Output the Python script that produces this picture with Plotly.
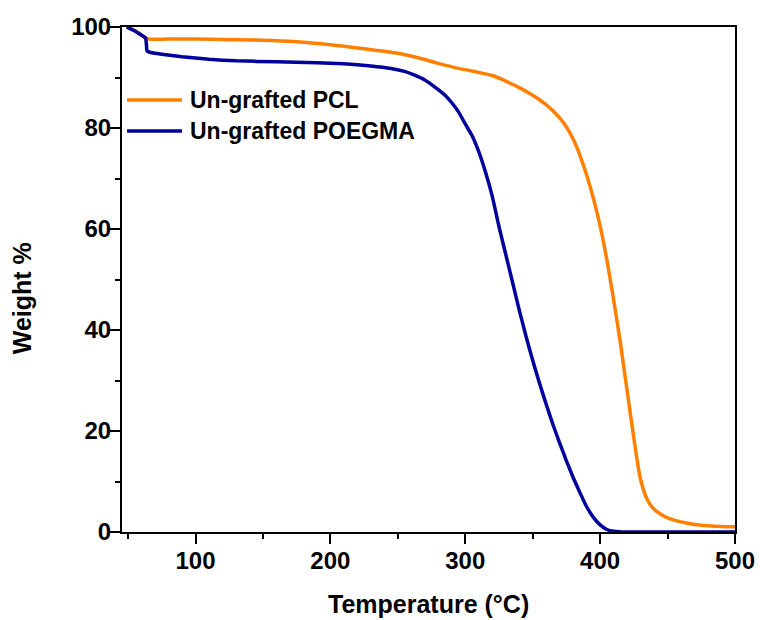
import plotly.graph_objects as go

# ---- data ----
pcl_temp = [49, 52, 55, 58, 61, 63, 66, 80, 100, 125, 150, 175, 200, 225, 250, 265, 280, 295, 310, 320,
            330, 340, 350, 355, 360, 365, 370, 375, 380, 385, 390, 395, 400, 405, 410, 415, 420, 425, 430,
            435, 440, 445, 450, 460, 470, 480, 490, 500]
pcl_weight = [100, 99.7, 99.3, 98.8, 98.2, 97.8, 97.6, 97.6, 97.6, 97.5, 97.4, 97.1, 96.5, 95.7, 94.8, 93.9,
              92.8, 91.8, 91.0, 90.4, 89.3, 88.0, 86.5, 85.6, 84.6, 83.4, 82.0, 80.2, 77.8, 74.6, 70.7,
              66.1, 60.6, 53.9, 46.0, 37.5, 28.0, 18.6, 10.4, 6.4, 4.5, 3.5, 2.8, 2.0, 1.5, 1.25, 1.1, 1.05]

poegma_temp = [49, 52, 55, 58, 61, 63, 63.6, 64, 66, 75, 90, 110, 130, 160, 190, 210, 230, 245, 255, 262,
               270, 278, 285, 290, 295, 300, 305, 310, 315, 320, 325, 330, 335, 340, 345, 350, 355, 360,
               365, 370, 375, 380, 385, 390, 395, 400, 405, 410, 415, 425, 450, 500]
poegma_weight = [100, 99.6, 99.2, 98.7, 98.2, 97.8, 96.5, 95.3, 95.0, 94.6, 94.1, 93.6, 93.3, 93.1, 92.9,
                 92.7, 92.3, 91.8, 91.2, 90.5, 89.5, 88.0, 86.5, 85.0, 83.2, 80.8, 78.5, 75.3, 71.3, 66.5,
                 60.5, 55.0, 49.5, 44.0, 38.8, 34.0, 29.5, 25.3, 21.3, 17.6, 14.1, 10.8, 7.8, 5.0, 2.9,
                 1.4, 0.5, 0.15, 0.05, 0.0, 0.0, 0.0]

series_names = ["Un-grafted PCL", "Un-grafted POEGMA"]
x_ticks = [100, 200, 300, 400, 500]
y_ticks = [0, 20, 40, 60, 80, 100]
x_label = "Temperature (°C)"
y_label = "Weight %"

FONT = "Liberation Sans, Arial, sans-serif"
ORANGE = "#FF8000"
BLUE = "#00009C"
COLORS = [ORANGE, BLUE]

fig = go.Figure()
fig.add_trace(go.Scatter(x=pcl_temp, y=pcl_weight, mode="lines", name=series_names[0], showlegend=False,
                         line=dict(color=ORANGE, width=3.5, shape="spline", smoothing=0.8)))
fig.add_trace(go.Scatter(x=poegma_temp, y=poegma_weight, mode="lines", name=series_names[1], showlegend=False,
                         line=dict(color=BLUE, width=3.5, shape="spline", smoothing=0.4)))

XR = [45.5, 500]
YR = [0, 100]

# legend drawn as paper-positioned line samples + labels
legend_rows_y = [0.8554, 0.7941]
shapes = []
annotations = []
for name, col, ly in zip(series_names, COLORS, legend_rows_y):
    shapes.append(dict(type="line", xref="paper", yref="paper", x0=0.0082, x1=0.0979, y0=ly, y1=ly,
                       line=dict(color=col, width=3.5)))
    annotations.append(dict(text=name, xref="paper", yref="paper", x=0.1077, y=ly,
                            xanchor="left", yanchor="middle", showarrow=False,
                            font=dict(family=FONT, size=23, color="black", weight="bold")))

annotations += [
    dict(text=x_label, xref="paper", yref="paper", x=0.5, y=-0.1426,
         xanchor="center", yanchor="middle", showarrow=False,
         font=dict(family=FONT, size=25, color="black", weight="bold")),
    dict(text=y_label, xref="paper", yref="paper", x=-0.163, y=0.463,
         xanchor="center", yanchor="middle", showarrow=False, textangle=-90,
         font=dict(family=FONT, size=25, color="black", weight="bold")),
]

fig.update_layout(
    width=760, height=620,
    margin=dict(l=122, r=25, t=27, b=88),
    plot_bgcolor="white", paper_bgcolor="white",
    font=dict(family=FONT, size=22, color="black"),
    showlegend=False,
    xaxis=dict(range=XR, tickvals=x_ticks, ticks="outside", ticklen=10, tickwidth=1.5,
               tickcolor="black", showline=True, linecolor="black", linewidth=2,
               showgrid=False, zeroline=False, mirror=True, automargin=False,
               ticklabelstandoff=-4,
               tickfont=dict(family=FONT, size=24, color="black", weight="bold"),
               minor=dict(tickvals=[50, 150, 250, 350, 450], ticks="outside", ticklen=5,
                          tickwidth=1.5, tickcolor="black", showgrid=False)),
    yaxis=dict(range=YR, tickvals=y_ticks, ticks="outside", ticklen=10, tickwidth=1.5,
               tickcolor="black", showline=True, linecolor="black", linewidth=2,
               showgrid=False, zeroline=False, mirror=True, automargin=False,
               ticklabelstandoff=-6,
               tickfont=dict(family=FONT, size=24, color="black", weight="bold"),
               minor=dict(tickvals=[10, 30, 50, 70, 90], ticks="outside", ticklen=5,
                          tickwidth=1.5, tickcolor="black", showgrid=False)),
    xaxis2=dict(range=XR, overlaying="x", side="top", anchor="y", automargin=False,
                tickvals=[50, 100, 150, 200, 250, 300, 350, 400, 450], ticks="inside", ticklen=3,
                tickcolor="black", showticklabels=False, showgrid=False, zeroline=False,
                showline=False),
    yaxis2=dict(range=YR, overlaying="y", side="right", anchor="x", automargin=False,
                tickvals=[10, 20, 30, 40, 50, 60, 70, 80, 90], ticks="inside", ticklen=3,
                tickcolor="black", showticklabels=False, showgrid=False, zeroline=False,
                showline=False),
    shapes=shapes,
    annotations=annotations,
)

fig.write_html("out.html")
